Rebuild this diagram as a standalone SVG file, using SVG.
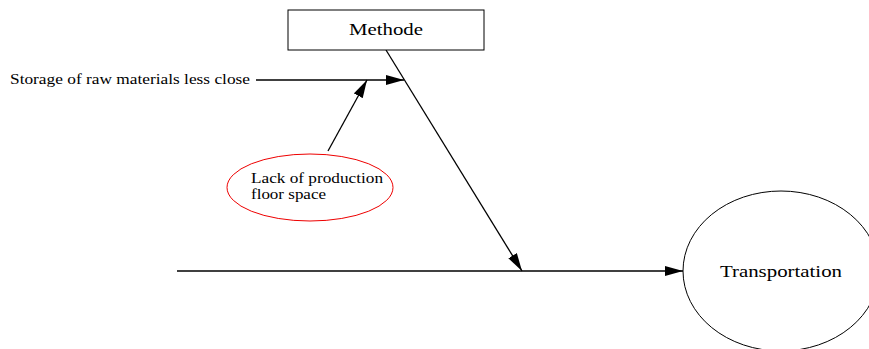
<svg xmlns="http://www.w3.org/2000/svg" width="869" height="349" viewBox="0 0 869 349">
<style>
text{font-family:"Liberation Serif","Times New Roman",serif;fill:#000}
.e{stroke:#000;stroke-width:1.3;fill:none}
</style>
<defs>
<marker id="ahb" markerWidth="18" markerHeight="10" refX="18" refY="5" orient="auto" markerUnits="userSpaceOnUse">
<path d="M0,0 L18,5 L0,10 Z" fill="#000"/>
</marker>
</defs>
<rect width="869" height="349" fill="#fff"/>
<g id="connectors">
<line class="e" x1="177" y1="271" x2="683" y2="271" marker-end="url(#ahb)"/>
<line class="e" x1="386" y1="50" x2="522" y2="271" marker-end="url(#ahb)"/>
<line class="e" x1="256" y1="80" x2="404" y2="80" marker-end="url(#ahb)"/>
<line class="e" x1="328" y1="151" x2="367" y2="80" marker-end="url(#ahb)"/>
</g>
<g id="methode">
<rect x="288" y="10" width="196" height="40" fill="#fff" stroke="#000" stroke-width="1"/>
<text x="349" y="35" font-size="16" textLength="74" lengthAdjust="spacingAndGlyphs">Methode</text>
</g>
<g id="storage">
<text x="10" y="84" font-size="14" textLength="240" lengthAdjust="spacingAndGlyphs">Storage of raw materials less close</text>
</g>
<g id="lack">
<ellipse cx="310" cy="187.5" rx="83" ry="33.5" fill="#fff" stroke="#e00" stroke-width="1"/>
<text x="251" y="183" font-size="14.5" textLength="132" lengthAdjust="spacingAndGlyphs">Lack of production</text>
<text x="251" y="199" font-size="14.5" textLength="75" lengthAdjust="spacingAndGlyphs">floor space</text>
</g>
<g id="transportation">
<ellipse cx="781" cy="271" rx="98" ry="80" fill="#fff" stroke="#000" stroke-width="1"/>
<text x="720" y="277" font-size="17" textLength="122" lengthAdjust="spacingAndGlyphs">Transportation</text>
</g>
</svg>
